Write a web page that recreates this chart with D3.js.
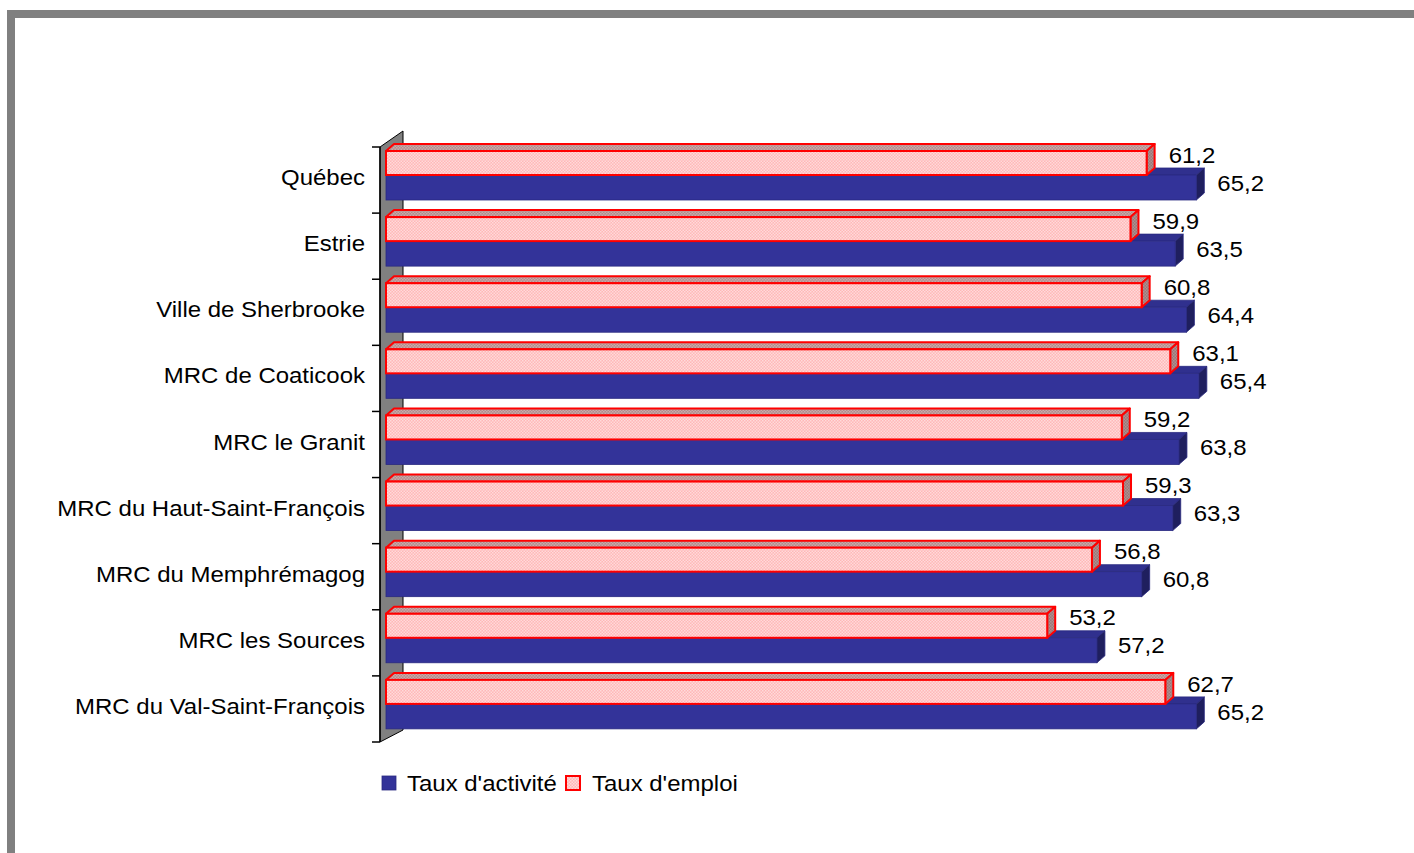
<!DOCTYPE html>
<html><head><meta charset="utf-8">
<script src="https://cdn.jsdelivr.net/npm/d3@7"></script>
<style>body{margin:0;background:#fff}svg{display:block}text{font-family:"Liberation Sans",Arial,sans-serif;fill:#000}</style>
</head><body><svg id="c" width="1414" height="853"></svg>
<script>
const categories = ["Québec","Estrie","Ville de Sherbrooke","MRC de Coaticook","MRC le Granit","MRC du Haut-Saint-François","MRC du Memphrémagog","MRC les Sources","MRC du Val-Saint-François"];
const tauxActivite = [65.2,63.5,64.4,65.4,63.8,63.3,60.8,57.2,65.2];
const tauxEmploi = [61.2,59.9,60.8,63.1,59.2,59.3,56.8,53.2,62.7];
const seriesNames = ["Taux d'activité","Taux d'emploi"];

const svg = d3.select("#c");
const defs = svg.append("defs");
function pat(id, base, dot){
  const p = defs.append("pattern").attr("id",id).attr("width",3).attr("height",3).attr("patternUnits","userSpaceOnUse");
  p.append("rect").attr("width",3).attr("height",3).attr("fill",base);
  p.append("rect").attr("x",0).attr("y",0).attr("width",1.5).attr("height",1.5).attr("fill",dot);
  p.append("rect").attr("x",1.5).attr("y",1.5).attr("width",1.5).attr("height",1.5).attr("fill",dot);
}
pat("pinkFront","#FFB8B8","#FFDADA");
pat("pinkTop","#B08C8C","#CDA9A9");
pat("pinkSide","#987878","#B09090");

// frame
svg.append("rect").attr("x",7).attr("y",10).attr("width",1407).attr("height",8).attr("fill","#808080");
svg.append("rect").attr("x",7).attr("y",10).attr("width",8).attr("height",843).attr("fill","#808080");

const loc = d3.formatLocale({decimal:",",thousands:" ",grouping:[3],currency:["","€"]});
const fmt = loc.format(".1f");

const x = d3.scaleLinear().domain([0,70]).range([386,1256]);
const y = d3.scaleBand().domain(categories).range([147,742]).padding(0);
const DX = 8, DY = -7, SX = 1.09;

// wall
svg.append("polygon").attr("points",[[380,147],[403,131],[403,730],[380,742]].map(p=>p.join(",")).join(" "))
  .attr("fill","#808080").attr("stroke","#000").attr("stroke-width",1);

function bar3d(g, v, yTop, h, st){
  const x0 = x(0), x1 = x(v);
  g.append("polygon").attr("points",[[x0,yTop],[x0+DX,yTop+DY],[x1+DX,yTop+DY],[x1,yTop]].map(p=>p.join(",")).join(" "))
    .attr("fill",st.top).attr("stroke",st.stroke).attr("stroke-width",st.sw).attr("stroke-linejoin","round");
  g.append("polygon").attr("points",[[x1,yTop],[x1+DX,yTop+DY],[x1+DX,yTop+h+DY],[x1,yTop+h]].map(p=>p.join(",")).join(" "))
    .attr("fill",st.side).attr("stroke",st.stroke).attr("stroke-width",st.sw).attr("stroke-linejoin","round");
  g.append("rect").attr("x",x0).attr("y",yTop).attr("width",x1-x0).attr("height",h)
    .attr("fill",st.front).attr("stroke",st.stroke).attr("stroke-width",st.sw);
}
const blueSt = {front:"#333399",top:"#30308E",side:"#1F1F5E",stroke:"#2A2A80",sw:0.8};
const pinkSt = {front:"url(#pinkFront)",top:"url(#pinkTop)",side:"url(#pinkSide)",stroke:"#FF0000",sw:2};

const bars = svg.append("g");
categories.forEach((c,i)=>{
  const g = bars.append("g");
  const b = y(c);
  bar3d(g, tauxActivite[i], b+28, 25, blueSt);
  bar3d(g, tauxEmploi[i], b+4, 24, pinkSt);
});

// axis line and ticks
const ax = svg.append("g");
ax.append("line").attr("x1",380).attr("x2",380).attr("y1",y.range()[0]).attr("y2",y.range()[1]).attr("stroke","#000").attr("stroke-width",1.5);
const bounds = categories.map(c=>y(c)).concat([y.range()[1]]);
ax.selectAll("line.t").data(bounds).enter().append("line").attr("class","t")
  .attr("x1",372).attr("x2",380).attr("y1",d=>d).attr("y2",d=>d).attr("stroke","#000").attr("stroke-width",1.5);

// category labels
const yAxis = d3.axisLeft(y).tickSize(0).tickPadding(0);
const ya = svg.append("g").attr("transform","translate(365,-2)").call(yAxis);
ya.select(".domain").remove();
ya.selectAll("text").attr("x",0).attr("font-size",22).attr("font-family","Liberation Sans, Arial, sans-serif")
  .attr("fill","#000").attr("transform",`scale(${SX},1)`);

// value labels
const lab = svg.append("g").attr("font-size",22);
categories.forEach((c,i)=>{
  const b = y(c);
  lab.append("text").attr("transform",`translate(${x(tauxEmploi[i])+22},${b+8}) scale(${SX},1)`).attr("dy","0.35em").text(fmt(tauxEmploi[i]));
  lab.append("text").attr("transform",`translate(${x(tauxActivite[i])+21},${b+36}) scale(${SX},1)`).attr("dy","0.35em").text(fmt(tauxActivite[i]));
});

// legend
const lg = svg.append("g");
lg.append("rect").attr("x",382).attr("y",776).attr("width",14).attr("height",14).attr("fill","#333399").attr("stroke","#2A2A80").attr("stroke-width",0.8);
lg.append("text").attr("transform",`translate(407,783) scale(${SX},1)`).attr("dy","0.35em").attr("font-size",22).text(seriesNames[0]);
lg.append("rect").attr("x",566).attr("y",776).attr("width",14).attr("height",14).attr("fill","url(#pinkFront)").attr("stroke","#FF0000").attr("stroke-width",2);
lg.append("text").attr("transform",`translate(592,783) scale(${SX},1)`).attr("dy","0.35em").attr("font-size",22).text(seriesNames[1]);
</script></body></html>
